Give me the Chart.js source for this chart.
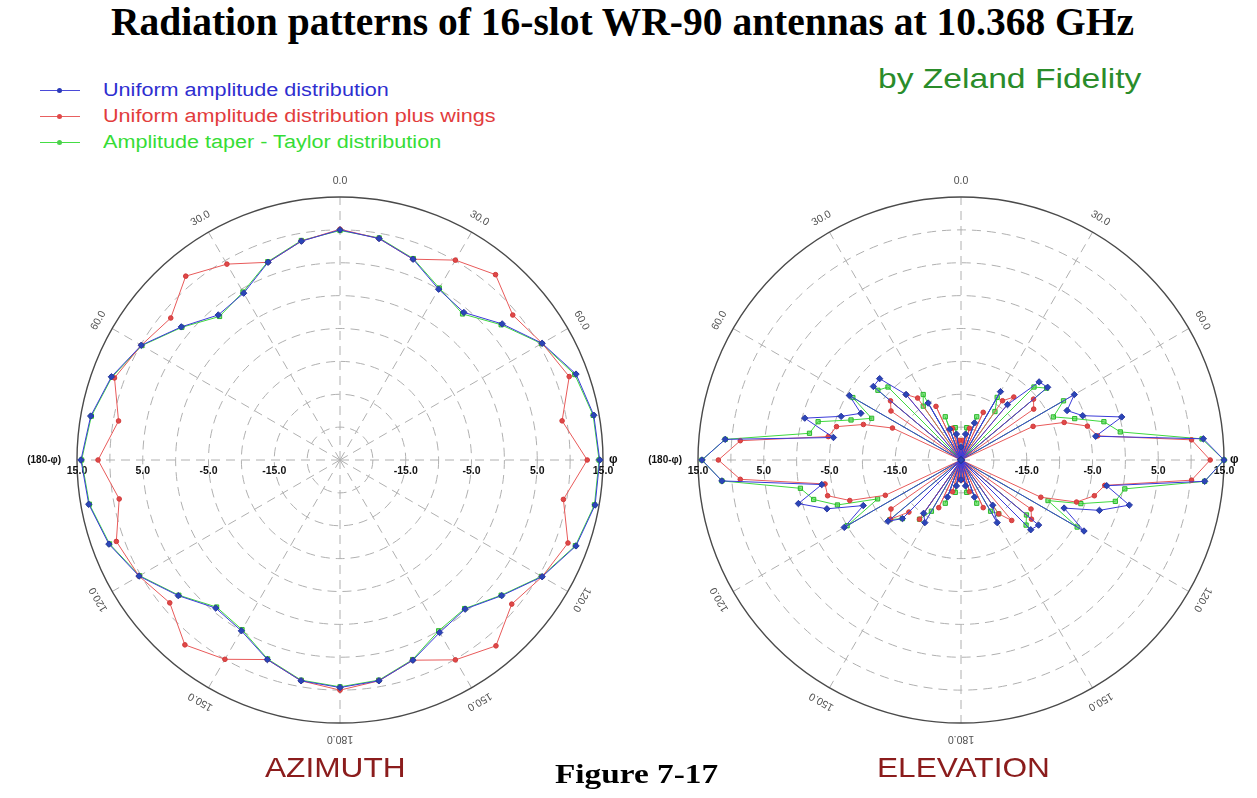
<!DOCTYPE html>
<html>
<head>
<meta charset="utf-8">
<script src="https://cdn.jsdelivr.net/npm/chart.js@4.4.1/dist/chart.umd.min.js"></script>
<style>
  html, body { margin: 0; padding: 0; background: #fff; overflow: hidden; }
  #page { position: relative; width: 1257px; height: 798px; overflow: hidden; background: #fff; }
  .txt { position: absolute; white-space: nowrap; transform-origin: 0 50%; }
  #title { left: 0; width: 1245px; top: -1px; text-align: center; font: bold 39.5px "Liberation Serif", "Times New Roman", serif; color: #000; }
  #credit { left: 878px; top: 63px; font: 28px "Liberation Sans", Arial, sans-serif; color: #2a8c2a; transform: scaleX(1.2); }
  .leg { position: absolute; left: 40px; height: 20px; font: 18px "Liberation Sans", Arial, sans-serif; line-height: 20px; }
  .leg .sw { position: absolute; left: 0; top: 10px; width: 40px; height: 0; border-top: 1px solid; }
  .leg .sw i { position: absolute; left: 17px; top: -3.5px; width: 5px; height: 5px; border-radius: 50%; }
  .leg span.t { position: absolute; left: 63px; top: 0; white-space: nowrap; transform: scaleX(1.2); transform-origin: 0 50%; }
  .plot { position: absolute; top: 160px; }
  #az { left: 20px; }
  #el { left: 641px; }
  .cap { top: 752px; font: 28px "Liberation Sans", Arial, sans-serif; color: #8b1c1c; transform: scaleX(1.13); }
  #fig { left: 555px; top: 758px; font: bold 28px "Liberation Serif", "Times New Roman", serif; color: #000; transform: scaleX(1.19); }
</style>
</head>
<body>
<div id="page">
  <div id="title" class="txt">Radiation patterns of 16-slot WR-90 antennas at 10.368 GHz</div>
  <div id="credit" class="txt">by Zeland Fidelity</div>

  <div class="leg" style="top:80px"><div class="sw" style="border-color:#4a4ad8"><i style="background:#2a3ab8"></i></div><span class="t" style="color:#2e2ed0">Uniform amplitude distribution</span></div>
  <div class="leg" style="top:106px"><div class="sw" style="border-color:#e86060"><i style="background:#e04848"></i></div><span class="t" style="color:#e23c3c">Uniform amplitude distribution plus wings</span></div>
  <div class="leg" style="top:132px"><div class="sw" style="border-color:#44dd44"><i style="background:#4cd04c"></i></div><span class="t" style="color:#36dd36">Amplitude taper - Taylor distribution</span></div>

  <canvas id="az" class="plot" width="640" height="600"></canvas>
  <canvas id="el" class="plot" width="640" height="600"></canvas>

  <div class="txt cap" style="left:265px">AZIMUTH</div>
  <div class="txt cap" style="left:877px">ELEVATION</div>
  <div id="fig" class="txt">Figure 7-17</div>
</div>

<script>
// Series names
const seriesNames = [
  'Uniform amplitude distribution',
  'Uniform amplitude distribution plus wings',
  'Amplitude taper - Taylor distribution'
];

// Labels around the rim, every 30 degrees clockwise from the top
const rimLabels = ['0.0', '30.0', '60.0', 'φ', '120.0', '150.0', '180.0', '150.0', '120.0', '(180-φ)', '60.0', '30.0'];
// Labelled rings (dB) along the horizontal axis
const ringLabels = [-15, -5, 5, 15];
const rMin = -25, rMax = 15, rStep = 5;

// AZIMUTH: gain in dB every 10 degrees, clockwise from 0 (top) through 350
const azUniform = [10.0, 9.2, 7.5, 5.0, 4.3, 7.2, 10.5, 13.2, 14.2, 14.5, 14.4, 13.2, 10.5, 7.1, 4.6, 5.3, 7.4, 9.1,
                   9.6, 9.1, 7.3, 5.0, 4.4, 7.1, 10.3, 12.4, 13.8, 14.4, 13.5, 12.0, 9.9, 6.5, 3.8, 4.3, 7.0, 8.8];
const azWings   = [10.1, 9.2, 7.5, 10.1, 11.8, 9.3, 10.5, 12.1, 9.3, 12.6, 9.5, 11.9, 10.5, 9.1, 11.9, 10.1, 7.4, 9.1,
                   10.0, 9.1, 7.3, 10.0, 11.7, 8.8, 10.3, 11.2, 9.1, 11.8, 9.2, 11.5, 9.9, 8.6, 11.5, 9.4, 7.0, 8.8];
const azTaylor  = [9.9, 9.3, 7.6, 5.2, 4.0, 7.0, 10.4, 13.0, 14.1, 14.4, 14.3, 13.1, 10.4, 7.0, 4.5, 5.0, 7.3, 9.0,
                   9.5, 9.0, 7.2, 4.8, 4.2, 7.0, 10.2, 12.3, 13.7, 14.3, 13.4, 11.9, 9.8, 6.4, 3.5, 4.5, 7.1, 8.9];

// ELEVATION: gain in dB every 5 degrees.
// Right half: 0 .. 180 going clockwise; left half: 175 .. 5 continuing clockwise.
const elUniformRight = [-23, -25, -21, -25, -19, -25, -13, -25, -14, -8.2, -7.8, -25, -5.1, -7.2, -5.3, 0.3, -4.2, 12.0, 15.0,
                        12.2, -2.5, 1.5, -2.6, -7.7, -3.4, -25, -9.6, -10.0, -25, -16.6, -14, -25, -19, -25, -21, -25, -22];
const elUniformLeft  = [-25, -21, -25, -19, -25, -14, -15.1, -25, -12.4, -10.5, -25, -4.5, -8.6, -3.3, 0.6, -3.5, 11.5, 14.4,
                        11.0, -5.3, -0.4, -5.6, -8.2, -5.4, -25, -7.6, -7.5, -12, -25, -15, -25, -20, -25, -21, -25];
const elWingsRight   = [-25, -22, -25, -20, -25, -17, -25, -14, -12.5, -25, -10.6, -11.5, -25, -12.9, -8.3, -5.1, -3.9, 10.2, 12.9,
                        10.2, -2.8, -4.0, -6.3, -11.6, -25, -12, -11, -25, -13, -15, -25, -17, -25, -20, -25, -22, -25];
const elWingsLeft    = [-22, -25, -20, -25, -17, -25, -14, -25, -13.8, -11, -12, -25, -12.3, -7.0, -4.0, -4.0, 8.7, 11.9,
                        8.7, -4.5, -5.4, -9.2, -13.5, -25, -12, -11, -25, -12, -13.5, -25, -16, -25, -20, -25, -22];
const elTaylorRight  = [-24, -25, -20, -25, -18, -25, -14, -16, -25, -9.3, -8.0, -25, -7.0, -9.5, -6.6, -2.5, -0.4, 11.8, 15.0,
                        12.2, 0.3, -0.7, -5.6, -10.4, -4.6, -25, -12.0, -11.0, -25, -15, -16, -25, -18, -25, -20, -25, -23];
const elTaylorLeft   = [-25, -20, -25, -18, -25, -16, -14, -25, -12.4, -10.9, -25, -5, -11.0, -5.0, -1.8, -0.2, 11.5, 14.4,
                        11.0, -1.6, -2.5, -7.2, -10, -6, -25, -8.5, -9.3, -25, -15, -13.5, -25, -18, -25, -20, -25];

const seriesStyle = [
  { line: '#3a3ad8', fill: '#2a46b8', edge: '#2a36a0', shape: 'rectRot', size: 3.2 },
  { line: '#e85a5a', fill: '#e04848', edge: '#d03a3a', shape: 'circle', size: 2.3 },
  { line: '#3fd83f', fill: 'rgba(70,215,70,0.65)', edge: '#2cb82c', shape: 'rect', size: 3 }
];

function angleCategories(stepDeg) {
  const out = [];
  for (let a = 0; a < 360; a += stepDeg) out.push(String(a));
  return out;
}

// Outer ring, rim labels and ring values, drawn under the traces
const rimPlugin = {
  id: 'rim',
  beforeDatasetsDraw(chart) {
    const s = chart.scales.r;
    const ctx = chart.ctx;
    const R = s.drawingArea;
    ctx.save();
    ctx.setLineDash([]);
    ctx.strokeStyle = '#4a4a4a';
    ctx.lineWidth = 1.4;
    ctx.beginPath();
    ctx.arc(s.xCenter, s.yCenter, R, 0, Math.PI * 2);
    ctx.stroke();

    // rim labels
    rimLabels.forEach((txt, i) => {
      const deg = i * 360 / rimLabels.length;
      if (deg === 90) {
        ctx.font = 'bold 12px "Liberation Sans", Arial, sans-serif';
        ctx.fillStyle = '#111';
        ctx.textAlign = 'left';
        ctx.textBaseline = 'middle';
        ctx.fillText(txt, s.xCenter + R + 6, s.yCenter);
        return;
      }
      if (deg === 270) {
        ctx.font = 'bold 10px "Liberation Sans", Arial, sans-serif';
        ctx.fillStyle = '#111';
        ctx.textAlign = 'right';
        ctx.textBaseline = 'middle';
        ctx.fillText(txt, s.xCenter - R - 16, s.yCenter);
        return;
      }
      const rad = deg * Math.PI / 180;
      const d = R + 16;
      const x = s.xCenter + d * Math.sin(rad);
      const y = s.yCenter - d * Math.cos(rad);
      ctx.save();
      ctx.translate(x, y);
      ctx.rotate(rad);
      ctx.font = '10.5px "Liberation Sans", Arial, sans-serif';
      ctx.fillStyle = '#505050';
      ctx.textAlign = 'center';
      ctx.textBaseline = 'middle';
      ctx.fillText(txt, 0, 0);
      ctx.restore();
    });

    // ring values along the horizontal axis, both sides
    ctx.font = 'bold 10.5px "Liberation Sans", Arial, sans-serif';
    ctx.fillStyle = '#111';
    ctx.textAlign = 'center';
    ctx.textBaseline = 'middle';
    ringLabels.forEach(v => {
      const d = s.getDistanceFromCenterForValue(v);
      const t = v.toFixed(1);
      ctx.fillText(t, s.xCenter - d, s.yCenter + 11);
      ctx.fillText(t, s.xCenter + d, s.yCenter + 11);
    });
    ctx.restore();
  }
};

function polarChart(canvasId, labels, seriesData) {
  const n = labels.length;
  const spokeEvery = n / 12;
  return new Chart(document.getElementById(canvasId), {
    type: 'radar',
    data: {
      labels: labels,
      datasets: seriesData.map((vals, i) => ({
        label: seriesNames[i],
        data: vals,
        borderColor: seriesStyle[i].line,
        borderWidth: 1,
        fill: false,
        tension: 0,
        spanGaps: true,
        pointStyle: seriesStyle[i].shape,
        pointRadius: seriesStyle[i].size,
        pointBorderWidth: 1,
        pointBackgroundColor: seriesStyle[i].fill,
        pointBorderColor: seriesStyle[i].edge
      }))
    },
    options: {
      responsive: false,
      animation: false,
      layout: { padding: { left: 57, right: 57, top: 37, bottom: 37 } },
      plugins: { legend: { display: false }, tooltip: { enabled: false } },
      scales: {
        r: {
          min: rMin,
          max: rMax,
          startAngle: 0,
          ticks: { display: false, stepSize: rStep },
          pointLabels: { display: false },
          grid: {
            circular: true,
            lineWidth: 1,
            color: (c) => (c.tick && c.tick.value >= rMax) ? 'rgba(0,0,0,0)' : '#b0b0b0'
          },
          border: { dash: [9, 6] },
          angleLines: {
            display: true,
            borderDash: [9, 6],
            lineWidth: (c) => (c.index % spokeEvery === 0) ? 1 : 0,
            color: (c) => (c.index % spokeEvery === 0) ? '#b0b0b0' : 'rgba(0,0,0,0)'
          }
        }
      }
    },
    plugins: [rimPlugin]
  });
}

polarChart('az', angleCategories(10), [azUniform, azWings, azTaylor]);
polarChart('el', angleCategories(5), [
  elUniformRight.concat(elUniformLeft),
  elWingsRight.concat(elWingsLeft),
  elTaylorRight.concat(elTaylorLeft)
]);
</script>
</body>
</html>
